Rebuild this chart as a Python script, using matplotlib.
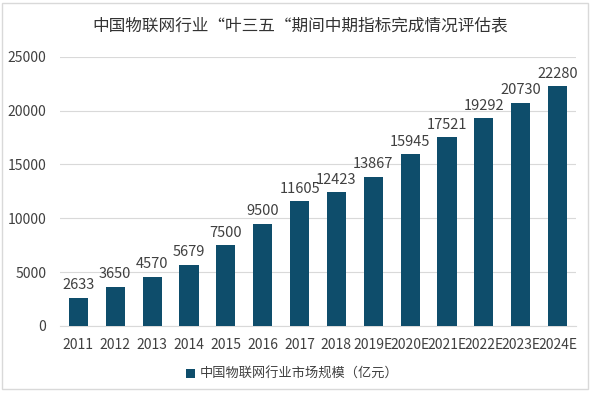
import numpy as np
import matplotlib
matplotlib.use('Agg')
import matplotlib.pyplot as plt
from matplotlib.patches import Rectangle

plt.rcParams['font.family'] = ['Noto Sans CJK SC', 'DejaVu Sans']

years = ['2011', '2012', '2013', '2014', '2015', '2016', '2017', '2018',
         '2019E', '2020E', '2021E', '2022E', '2023E', '2024E']
market_size = [2633, 3650, 4570, 5679, 7500, 9500, 11605, 12423,
               13867, 15945, 17521, 19292, 20730, 22280]
series_name = '中国物联网行业市场规模（亿元）'
title = '中国物联网行业“叶三五“期间中期指标完成情况评估表'

bar_color = '#0E4D6B'
text_color = '#404040'

fig = plt.figure(figsize=(6.0, 3.95), dpi=100)
ax = fig.add_axes([0.100, 0.175, 0.860, 0.681])

ind = np.arange(len(years))
bars = ax.bar(ind, market_size, 0.52, color=bar_color, zorder=3)
for x, v in zip(ind, market_size):
    ax.text(x, v + 500, str(v), ha='center', va='bottom',
            fontsize=10.5, color=text_color)

ax.set_xlim(-0.5, len(years) - 0.5)
ax.set_ylim(0, 25000)
ax.set_yticks(np.arange(0, 25001, 5000))
ax.set_xticks(ind)
ax.set_xticklabels(years)
ax.tick_params(axis='both', length=0, labelsize=10, colors=text_color)
ax.tick_params(axis='x', pad=9)
ax.tick_params(axis='y', pad=10)
ax.grid(axis='y', color='#d9d9d9', linewidth=0.8, zorder=0)
for s in ['top', 'right', 'left']:
    ax.spines[s].set_visible(False)
ax.spines['bottom'].set_color('#d9d9d9')

fig.text(0.50, 0.935, title, ha='center', va='center',
         fontsize=12, color='#333333')

leg = ax.legend([bars[0]], [series_name], loc='center',
                bbox_to_anchor=(0.45, -0.18), frameon=False,
                fontsize=9.5, handlelength=0.7, handleheight=0.7,
                handletextpad=0.3)
for t in leg.get_texts():
    t.set_color(text_color)

fig.patches.append(Rectangle((0.004, 0.015), 0.976, 0.978,
                             transform=fig.transFigure, fill=False,
                             edgecolor='#d9d9d9', linewidth=1.0))

plt.savefig('out.png', dpi=100)
